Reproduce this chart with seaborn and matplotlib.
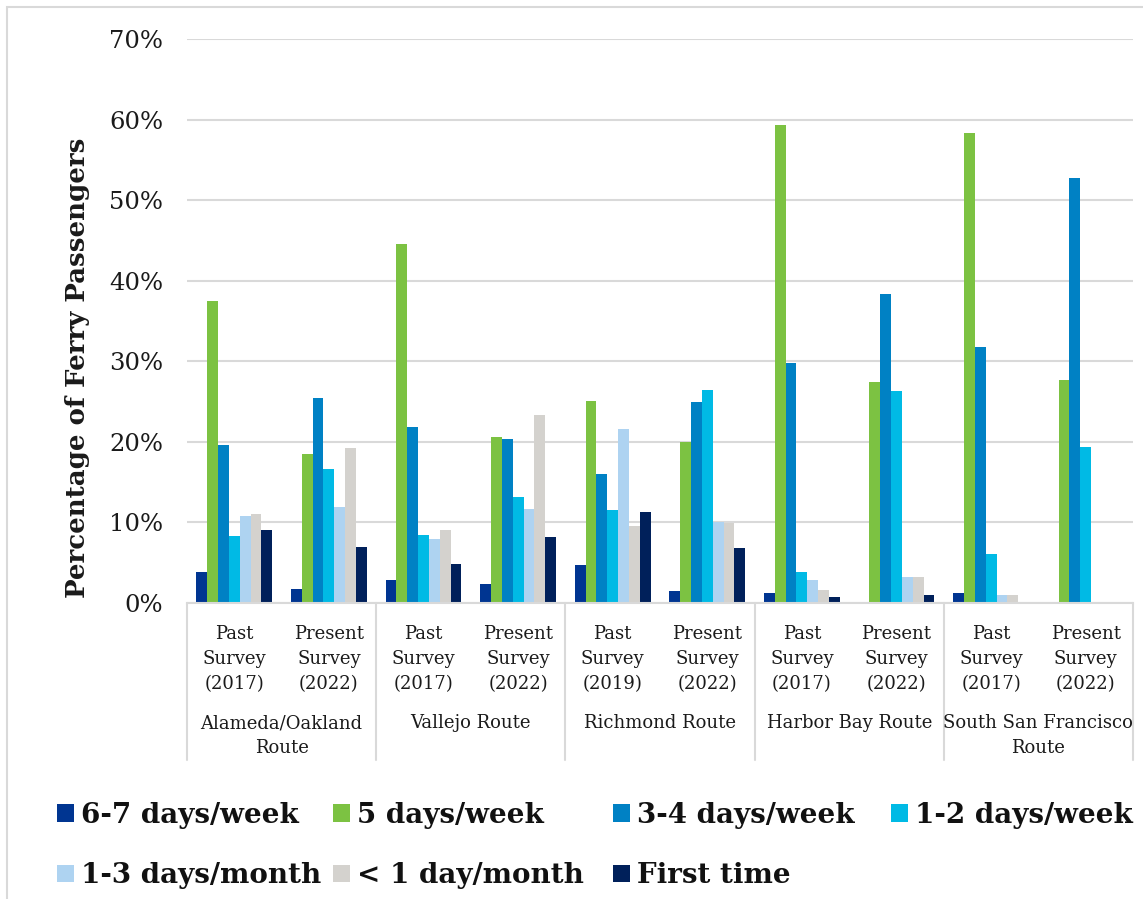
import matplotlib
matplotlib.use("Agg")
import matplotlib.pyplot as plt
import matplotlib.transforms as mtransforms
from matplotlib.patches import Patch, Rectangle
import numpy as np
import pandas as pd
import seaborn as sns

# ---- data -------------------------------------------------------------
routes = ["Alameda/Oakland\nRoute", "Vallejo Route", "Richmond Route",
          "Harbor Bay Route", "South San Francisco\nRoute"]
surveys = ["Past\nSurvey\n(2017)", "Present\nSurvey\n(2022)",
           "Past\nSurvey\n(2017)", "Present\nSurvey\n(2022)",
           "Past\nSurvey\n(2019)", "Present\nSurvey\n(2022)",
           "Past\nSurvey\n(2017)", "Present\nSurvey\n(2022)",
           "Past\nSurvey\n(2017)", "Present\nSurvey\n(2022)"]
frequencies = ["6-7 days/week", "5 days/week", "3-4 days/week", "1-2 days/week",
               "1-3 days/month", "< 1 day/month", "First time"]

days_6_7 = [3.8, 1.7, 2.8, 2.4, 4.7, 1.5, 1.2, 0.0, 1.3, 0.0]
days_5 = [37.5, 18.5, 44.6, 20.6, 25.1, 20.0, 59.3, 27.4, 58.3, 27.7]
days_3_4 = [19.6, 25.4, 21.8, 20.4, 16.0, 24.9, 29.8, 38.4, 31.8, 52.7]
days_1_2 = [8.3, 16.6, 8.5, 13.2, 11.5, 26.4, 3.8, 26.3, 6.1, 19.4]
month_1_3 = [10.8, 11.9, 8.0, 11.7, 21.6, 10.1, 2.9, 3.2, 1.0, 0.0]
month_lt1 = [11.0, 19.2, 9.1, 23.3, 9.5, 9.9, 1.6, 3.2, 1.0, 0.0]
first_time = [9.0, 6.9, 4.9, 8.2, 11.3, 6.8, 0.7, 1.0, 0.0, 0.0]

colors = ["#003591", "#7CC242", "#0081C4", "#00BAE5", "#AED3F1", "#D4D2CE", "#00205A"]

series = [days_6_7, days_5, days_3_4, days_1_2, month_1_3, month_lt1, first_time]
slots = list(range(len(surveys)))
df = pd.DataFrame({
    "slot": np.tile(slots, len(frequencies)),
    "frequency": np.repeat(frequencies, len(slots)),
    "share": np.concatenate(series) / 100.0,
})

# ---- figure -----------------------------------------------------------
sns.set_theme(style="white")
plt.rcParams["font.family"] = ["DejaVu Serif"]

W, H = 1143, 899
fig = plt.figure(figsize=(W / 100, H / 100), dpi=100)
ax = fig.add_axes([187 / W, 1 - 603 / H, (1133 - 187) / W, (603 - 39) / H])

sns.barplot(data=df, x="slot", y="share", hue="frequency", hue_order=frequencies,
            palette=colors, width=0.8, linewidth=0, saturation=1,
            legend=False, ax=ax, order=slots)

ax.set_ylim(0, 0.70)
ax.set_xlim(-0.5, len(slots) - 0.5)
yt = np.arange(0, 0.71, 0.10)
ax.set_yticks(yt)
ax.set_yticklabels([f"{int(round(v * 100))}%" for v in yt],
                   fontsize=17.5, color="#1a1a1a")
ax.yaxis.grid(True, color="#D9D9D9", linewidth=1.5)
ax.set_axisbelow(True)
ax.tick_params(axis="y", length=0, pad=17)
ax.tick_params(axis="x", length=0, pad=16)
for s in ["top", "right", "left"]:
    ax.spines[s].set_visible(False)
ax.spines["bottom"].set_color("#D9D9D9")
ax.spines["bottom"].set_linewidth(1.5)

ax.set_xticks(slots)
ax.set_xticklabels(surveys, fontsize=13, color="#1a1a1a", linespacing=1.5)
ax.set_xlabel("")
ax.set_ylabel("Percentage of Ferry Passengers", fontsize=18.7, fontweight="bold",
              color="#1a1a1a")
ax.yaxis.set_label_coords((90 - 187) / 946, (603 - 368) / 564)

# two-level category axis: separators and route names
trans = mtransforms.blended_transform_factory(ax.transData, ax.transAxes)
sep_bottom = -(760 - 603) / (603 - 39)
for b in np.arange(-0.5, len(slots), 2):
    ax.plot([b, b], [0, sep_bottom], transform=trans, color="#D9D9D9",
            linewidth=1.5, clip_on=False)
for i, r in enumerate(routes):
    ax.text(2 * i + 0.5, -(714 - 603) / (603 - 39), r, transform=trans,
            ha="center", va="top", fontsize=13, color="#1a1a1a", linespacing=1.5)

# legend: one column block per anchor
col_x = [57, 333, 613, 891]
col_items = [[0, 4], [1, 5], [2, 6], [3]]
for x0, items in zip(col_x, col_items):
    handles = [Patch(facecolor=colors[k], edgecolor="none") for k in items]
    labels = [frequencies[k] for k in items]
    leg = fig.legend(handles, labels, loc="upper left",
                     bbox_to_anchor=(x0 / W, 1 - 802 / H), frameon=False,
                     prop={"weight": "bold", "size": 20}, handlelength=0.6,
                     handleheight=0.6, handletextpad=0.27, borderpad=0,
                     borderaxespad=0, labelspacing=1.2)
    for t in leg.get_texts():
        t.set_color("#111111")

# outer frame
fig.patches.append(Rectangle((7 / W, -0.1), 1.2, (1 - 7 / H) + 0.1,
                             transform=fig.transFigure, fill=False,
                             edgecolor="#D9D9D9", linewidth=1.5))

fig.savefig("out.png", dpi=100)
